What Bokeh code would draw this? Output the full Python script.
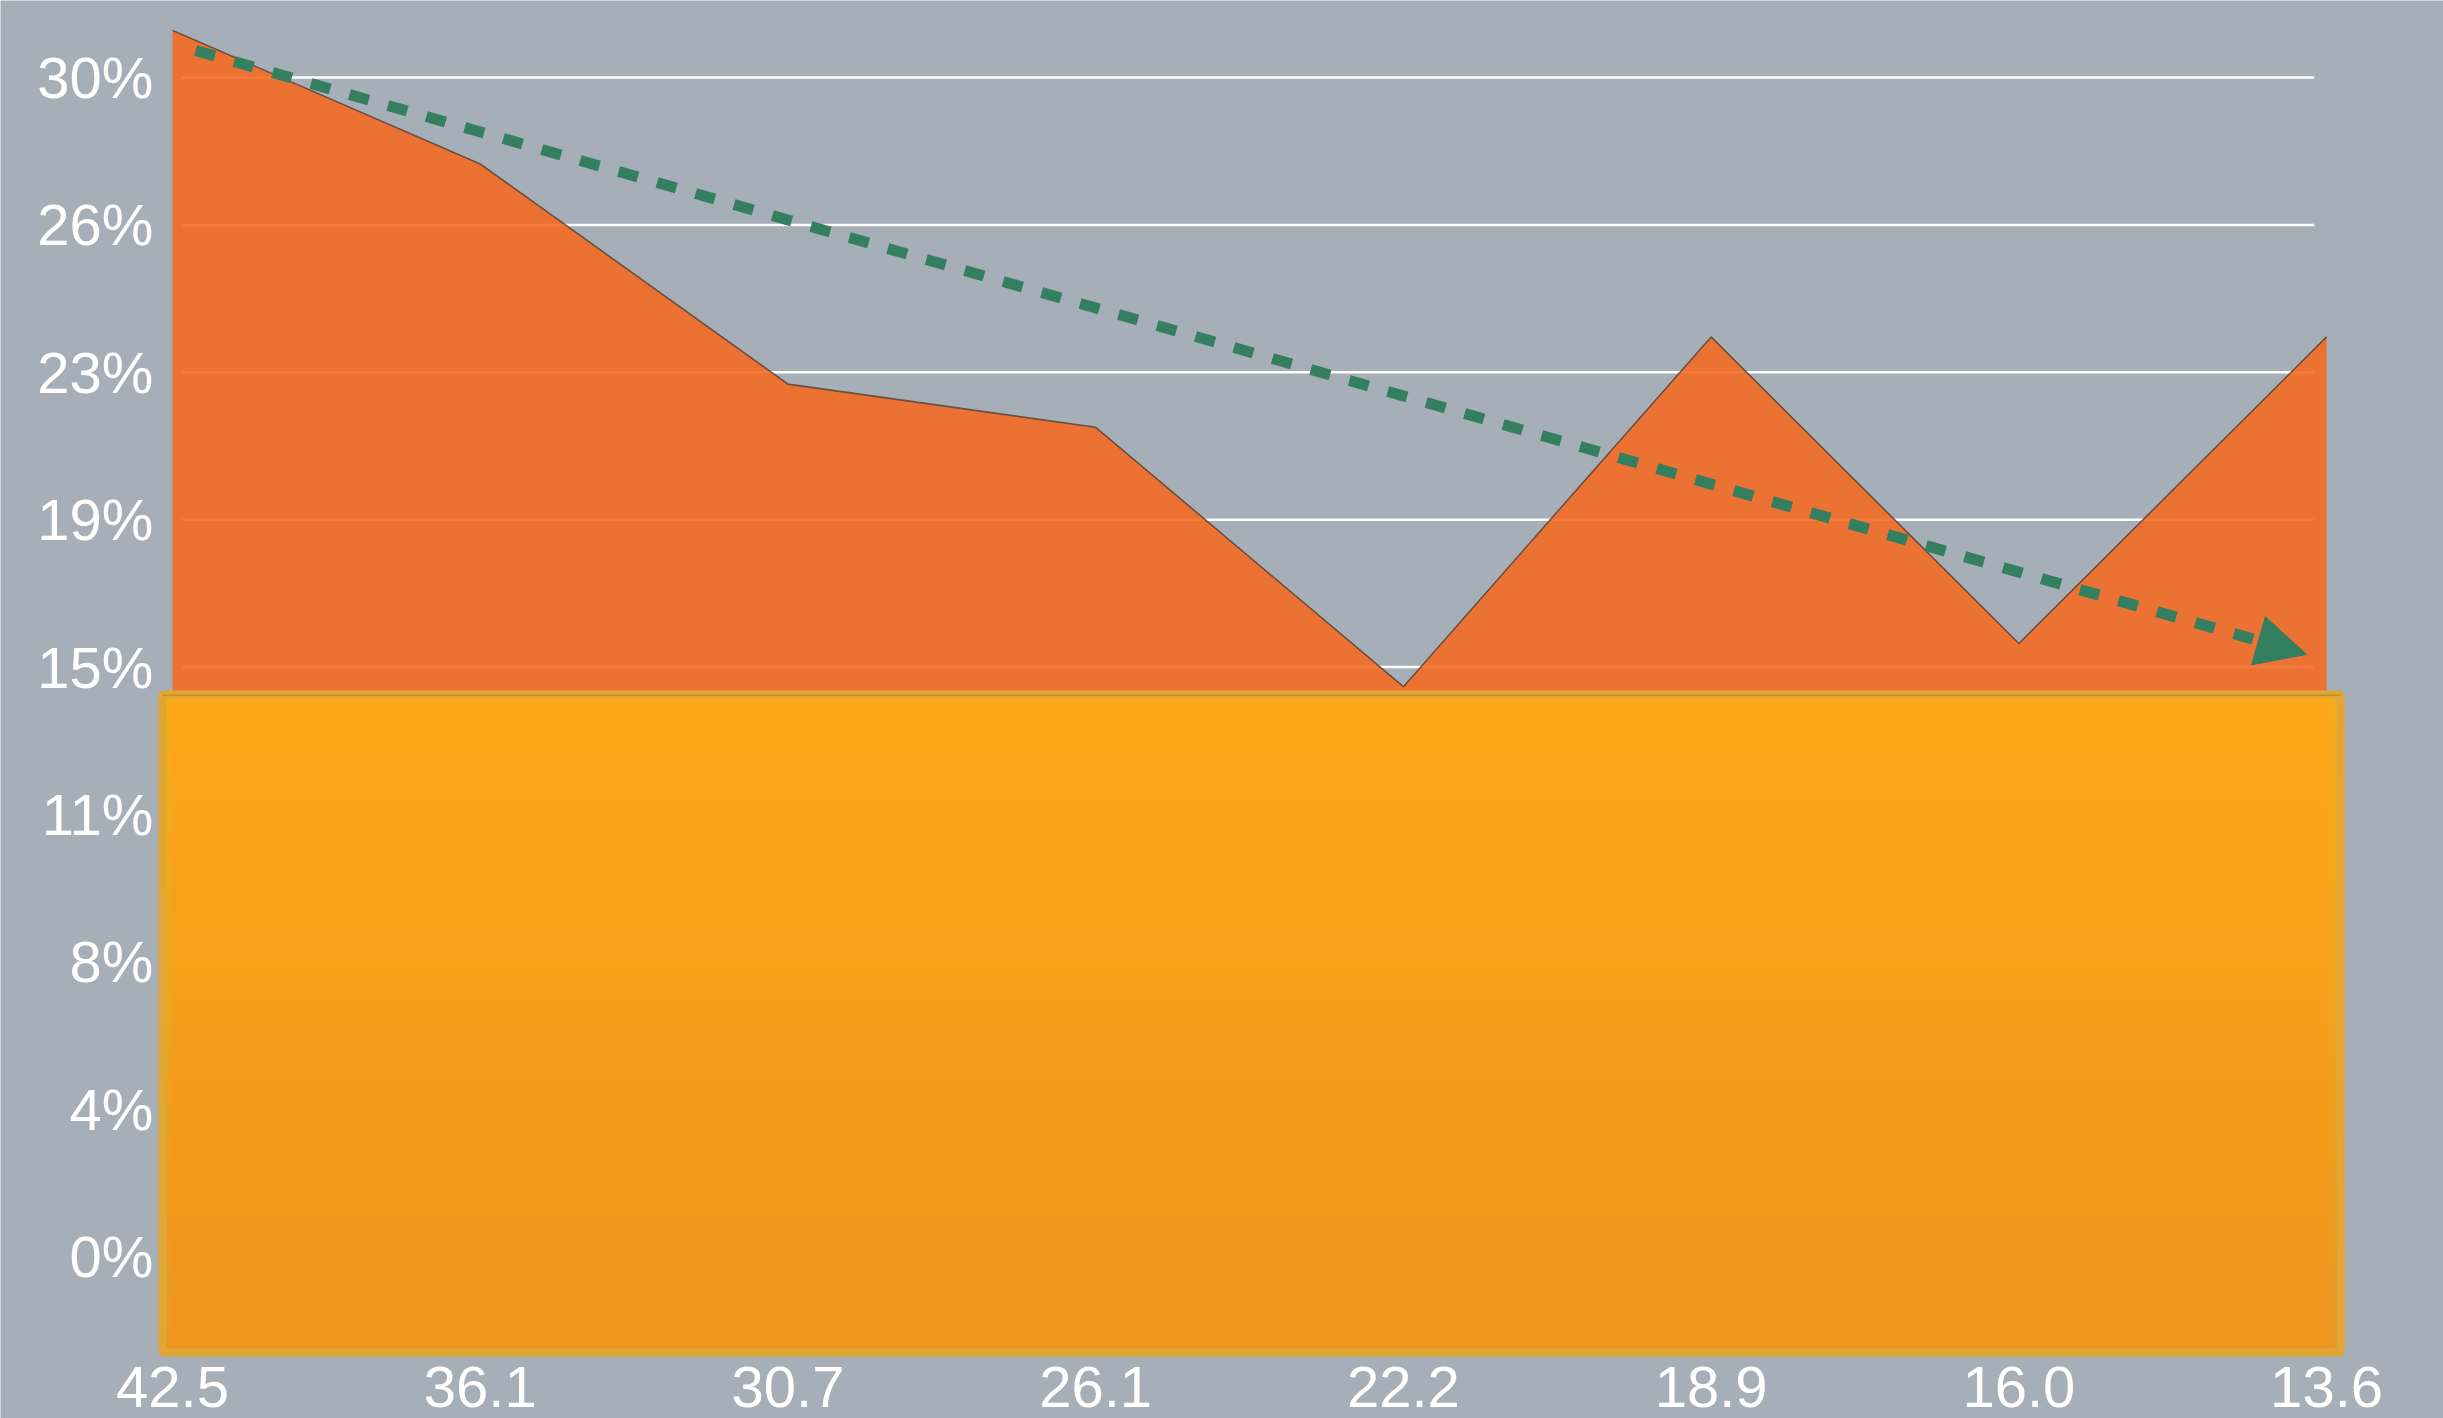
import math
from bokeh.plotting import figure
from bokeh.models import Range1d, Arrow, NormalHead, ColumnDataSource
from bokeh.core.properties import value
from bokeh.embed import file_html
from bokeh.resources import INLINE

# ---- data ----
categories = ["42.5", "36.1", "30.7", "26.1", "22.2", "18.9", "16.0", "13.6"]
values = [31.2, 27.8, 22.2, 21.1, 14.5, 23.4, 15.6, 23.4]
floor_level = 14.3
trend_x = [0.075, 6.935]
trend_y = [30.69, 15.32]
y_ticks = [0, 3.75, 7.5, 11.25, 15, 18.75, 22.5, 26.25, 30]
y_tick_labels = [f"{math.floor(t + 0.5)}%" for t in y_ticks]

# ---- layout / style constants ----
BG = "#a6afb8"
Y_START, Y_END = -4.12, 31.96
X_START, X_END = -0.559, 7.380
BASE = -2.44                 # bottom of plotted block
BLOCK_L, BLOCK_R = -0.033, 7.046
GRID_L, GRID_R = 0.03, 6.96
XLABEL_Y = -3.32
YLABEL_X = -0.062
FONT = "Liberation Sans"

xs = list(range(len(categories)))

p = figure(width=2443, height=1418, output_backend="svg", toolbar_location=None,
           x_range=Range1d(X_START, X_END), y_range=Range1d(Y_START, Y_END),
           background_fill_color=BG, border_fill_color=BG,
           min_border=0)
p.outline_line_color = None
p.xaxis.visible = False
p.yaxis.visible = False
p.grid.visible = False

# horizontal grid lines
p.segment(x0=[GRID_L] * len(y_ticks), x1=[GRID_R] * len(y_ticks), y0=y_ticks, y1=y_ticks,
          line_color="white", line_width=2.5)

# area series
p.varea(x=xs, y1=[BASE] * len(xs), y2=values, fill_color="#f46b25", fill_alpha=0.9)
p.line(x=xs, y=values, line_color="#5a4436", line_width=1.6, line_alpha=0.85)

# lower block with a soft vertical gradient
n_bands = 24
top_c = (251, 170, 22)
bot_c = (236, 151, 27)
bands_b, bands_t, bands_c = [], [], []
h = (floor_level - BASE) / n_bands
for i in range(n_bands):
    f = i / (n_bands - 1)
    c = tuple(round(top_c[k] + (bot_c[k] - top_c[k]) * f) for k in range(3))
    bands_t.append(floor_level - i * h)
    bands_b.append(floor_level - (i + 1) * h - 0.02)
    bands_c.append("#%02x%02x%02x" % c)
p.quad(left=[BLOCK_L] * n_bands, right=[BLOCK_R] * n_bands, bottom=bands_b, top=bands_t,
       fill_color=bands_c, fill_alpha=0.96, line_color=None)
p.quad(left=BLOCK_L, right=BLOCK_R, bottom=BASE, top=floor_level,
       fill_color=None, line_color="#e0a736", line_width=8)
p.quad(left=BLOCK_L, right=BLOCK_R, bottom=floor_level - 0.035, top=floor_level,
       fill_color="#c27a20", fill_alpha=0.6, line_color=None)

# category labels
xsrc = ColumnDataSource(dict(x=xs, y=[XLABEL_Y] * len(xs), t=categories))
p.text(x="x", y="y", text="t", source=xsrc, text_align="center", text_baseline="middle",
       text_color="white", text_font=value(FONT), text_font_size="58px")

# value axis labels
ysrc = ColumnDataSource(dict(x=[YLABEL_X] * len(y_ticks), y=y_ticks, t=y_tick_labels))
p.text(x="x", y="y", text="t", source=ysrc, text_align="right", text_baseline="middle",
       text_color="white", text_font=value(FONT), text_font_size="58px")

# trend arrow
GREEN = "#347f60"
p.add_layout(Arrow(x_start=trend_x[0], y_start=trend_y[0], x_end=trend_x[1], y_end=trend_y[1],
                   line_color=GREEN, line_width=11, line_dash="20 20",
                   end=NormalHead(size=50, fill_color=GREEN, line_color=GREEN, line_width=1)))

open("out.html", "w").write(file_html(p, INLINE))
